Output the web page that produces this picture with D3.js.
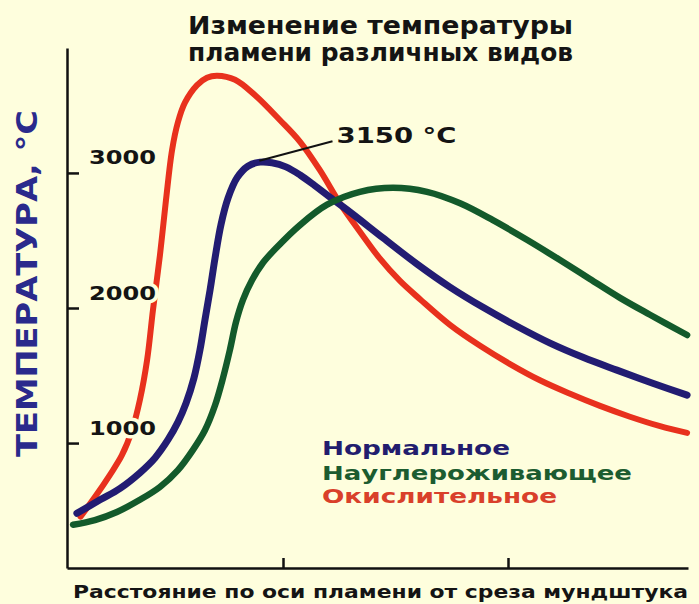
<!DOCTYPE html>
<meta charset="utf-8">
<style>
    body {
        margin: 0;
        background-color: #fefedd;
    }

    .axis path,
    .axis line {
        stroke: #111;
        stroke-width: 2.5px;
    }

    .lbl {
        font-family: "DejaVu Sans", "Liberation Sans", Arial, sans-serif;
        font-weight: bold;
        fill: #141414;
    }

    .curve {
        fill: none;
        stroke-linecap: round;
        stroke-linejoin: round;
    }
</style>

<body>
    <script src="https://cdnjs.cloudflare.com/ajax/libs/d3/7.8.5/d3.min.js"></script>
    <script>

        var width = 699,
            height = 604;

        // distance along flame axis (relative units), temperature °C
        var xTicks = [1, 2];
        var yTicks = [1000, 2000, 3000];

        var seriesNames = ["Нормальное", "Науглероживающее", "Окислительное"];
        var seriesColors = ["#221c72", "#135a2b", "#e8311d"];
        var legendColors = ["#221d6e", "#1c5c30", "#d9402a"];

        var normal = [[0.084, 480], [0.187, 580], [0.276, 665], [0.364, 780], [0.431, 890], [0.489, 1025],
            [0.533, 1155], [0.569, 1295], [0.604, 1480], [0.631, 1690], [0.653, 1910], [0.676, 2135],
            [0.698, 2370], [0.724, 2615], [0.756, 2815], [0.796, 2965], [0.844, 3050], [0.898, 3080],
            [0.951, 3075], [1.013, 3045], [1.076, 2985], [1.142, 2905], [1.209, 2820], [1.298, 2710],
            [1.444, 2520], [1.596, 2325], [1.742, 2155], [1.889, 2005], [2.04, 1865], [2.187, 1740],
            [2.333, 1635], [2.484, 1540], [2.64, 1445], [2.796, 1355]];

        var carburizing = [[0.067, 395], [0.164, 430], [0.262, 490], [0.364, 580], [0.453, 675], [0.533, 800],
            [0.60, 950], [0.653, 1095], [0.698, 1280], [0.733, 1480], [0.764, 1690], [0.791, 1895],
            [0.822, 2060], [0.862, 2205], [0.911, 2335], [0.973, 2450], [1.076, 2615], [1.196, 2765],
            [1.342, 2860], [1.489, 2890], [1.64, 2860], [1.787, 2775], [1.933, 2650], [2.084, 2505],
            [2.231, 2355], [2.364, 2215], [2.498, 2075], [2.631, 1950], [2.796, 1800]];

        var oxidizing = [[0.10, 455], [0.164, 600], [0.231, 765], [0.284, 910], [0.329, 1095], [0.364, 1320],
            [0.396, 1615], [0.422, 1985], [0.453, 2390], [0.48, 2800], [0.507, 3170], [0.533, 3375],
            [0.564, 3520], [0.618, 3650], [0.662, 3705], [0.707, 3720], [0.787, 3690], [0.876, 3575],
            [0.987, 3390], [1.076, 3230], [1.164, 3020], [1.253, 2775], [1.342, 2565], [1.431, 2365],
            [1.52, 2200], [1.609, 2065], [1.742, 1875], [1.876, 1720], [2.009, 1585], [2.142, 1465],
            [2.276, 1365], [2.409, 1275], [2.542, 1195], [2.676, 1125], [2.796, 1075]];

        var peakLabel = "3150 °C";
        var peakPoint = [0.895, 3090];
        var peakLabelPoint = [1.22, 3235];

        var x = d3.scaleLinear().domain([0.04, 2.8]).range([67, 688]);
        var y = d3.scaleLinear().domain([75, 3925]).range([568, 48]);

        var svg = d3.select("body").append("svg")
            .attr("width", width)
            .attr("height", height);

        // set font size, then stretch to measured width of the original lettering
        function fit(sel, size, w) {
            sel.style("font-size", size + "px")
                .attr("textLength", w)
                .attr("lengthAdjust", "spacingAndGlyphs");
            return sel;
        }

        // curves
        var line = d3.line()
            .curve(d3.curveCatmullRom.alpha(0.5))
            .x(function (d) { return x(d[0]); })
            .y(function (d) { return y(d[1]); });

        var curves = [
            { data: oxidizing, color: seriesColors[2], w: 6 },
            { data: normal, color: seriesColors[0], w: 7 },
            { data: carburizing, color: seriesColors[1], w: 6.5 }
        ];

        svg.append("g").selectAll("path")
            .data(curves)
            .enter().append("path")
            .attr("class", "curve")
            .attr("d", function (d) { return line(d.data); })
            .attr("stroke", function (d) { return d.color; })
            .attr("stroke-width", function (d) { return d.w; });

        // axes
        var yAxis = svg.append("g")
            .attr("class", "axis")
            .attr("transform", "translate(" + x(0.04) + ",0)")
            .call(d3.axisLeft(y).tickValues(yTicks).tickSize(-12).tickSizeOuter(0).tickFormat(d3.format("d")));

        yAxis.selectAll("text")
            .attr("class", "lbl")
            .attr("x", 22)
            .attr("dy", -9)
            .attr("text-anchor", "start")
            .style("paint-order", "stroke")
            .style("stroke", "#fefedd")
            .style("stroke-width", "7px")
            .each(function () { fit(d3.select(this), 20, 67); });

        svg.append("g")
            .attr("class", "axis")
            .attr("transform", "translate(0," + y(75) + ")")
            .call(d3.axisBottom(x).tickValues(xTicks).tickSize(-10).tickSizeOuter(0).tickFormat(""));

        svg.selectAll(".axis").attr("font-family", null).attr("font-size", null);

        // peak annotation
        svg.append("line")
            .attr("x1", x(peakPoint[0])).attr("y1", y(peakPoint[1]))
            .attr("x2", x(peakLabelPoint[0])).attr("y2", y(peakLabelPoint[1]))
            .attr("stroke", "#111")
            .attr("stroke-width", 2);

        fit(svg.append("text")
            .attr("class", "lbl")
            .attr("x", x(peakLabelPoint[0]) + 4)
            .attr("y", y(peakLabelPoint[1]) + 2)
            .text(peakLabel), 21, 120);

        // title
        var title = ["Изменение температуры", "пламени различных видов"];
        svg.selectAll(".title")
            .data(title)
            .enter().append("text")
            .attr("class", "lbl title")
            .attr("x", 188)
            .attr("y", function (d, i) { return 34 + i * 27; })
            .text(function (d) { return d; })
            .each(function () { fit(d3.select(this), 24, 385); });

        // axis titles
        fit(svg.append("text")
            .attr("class", "lbl")
            .attr("transform", "translate(37,457)rotate(-90)")
            .style("fill", "#2a2a8c")
            .text("ТЕМПЕРАТУРА, °C"), 29, 347);

        fit(svg.append("text")
            .attr("class", "lbl")
            .attr("x", 73)
            .attr("y", 598)
            .text("Расстояние по оси пламени от среза мундштука"), 18, 615);

        // legend
        var legendWidths = [188, 310, 235];
        svg.selectAll(".legend")
            .data(seriesNames)
            .enter().append("text")
            .attr("class", "lbl legend")
            .attr("x", 322)
            .attr("y", function (d, i) { return [455, 480, 503][i]; })
            .style("fill", function (d, i) { return legendColors[i]; })
            .text(function (d) { return d; })
            .each(function (d, i) { fit(d3.select(this), 19, legendWidths[i]); });

    </script>
</body>
